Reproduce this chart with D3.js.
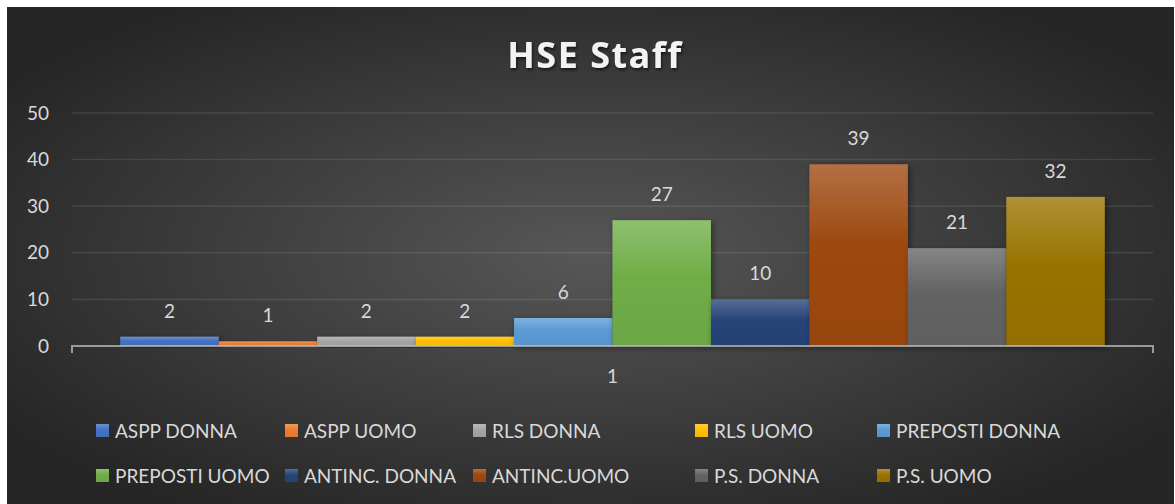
<!DOCTYPE html>
<html>
<head>
<meta charset="utf-8">
<script src="https://cdn.jsdelivr.net/npm/d3@7"></script>
<style>
  html, body { margin: 0; padding: 0; background: #ffffff; }
  svg { display: block; }
</style>
</head>
<body>
<div id="chart"></div>
<script>
const width = 1175;
const height = 504;

// data
const categories = ["1"];
const seriesNames = ["ASPP DONNA", "ASPP UOMO", "RLS DONNA", "RLS UOMO", "PREPOSTI DONNA",
    "PREPOSTI UOMO", "ANTINC. DONNA", "ANTINC.UOMO", "P.S. DONNA", "P.S. UOMO"];
const seriesValues = [2, 1, 2, 2, 6, 27, 10, 39, 21, 32];
const yTicks = [0, 10, 20, 30, 40, 50];

const seriesColors = ["#4472c4", "#ed7d31", "#a5a5a5", "#ffc000", "#5b9bd5",
    "#70ad47", "#264478", "#9e480e", "#636363", "#997300"];

const plot = { left: 72, right: 1153, top: 113, bottom: 346 };
const font = "Lato, 'Open Sans', sans-serif";
const labelSize = "19px";

const svg = d3.select("#chart")
    .append("svg")
    .attr("width", width)
    .attr("height", height);

const defs = svg.append("defs");

// background
const bg = defs.append("radialGradient")
    .attr("id", "bg")
    .attr("cx", "50%").attr("cy", "50%").attr("r", "60%")
    .attr("gradientUnits", "objectBoundingBox");
bg.append("stop").attr("offset", "0%").attr("stop-color", "#575757");
bg.append("stop").attr("offset", "100%").attr("stop-color", "#262626");

svg.append("rect")
    .attr("x", 7).attr("y", 7)
    .attr("width", width - 8).attr("height", height - 7)
    .attr("fill", "url(#bg)");

// bar gradients
seriesColors.forEach((c, i) => {
    const g = defs.append("linearGradient")
        .attr("id", "bar" + i)
        .attr("x1", 0).attr("y1", 0).attr("x2", 0).attr("y2", 1);
    g.append("stop").attr("offset", "0%").attr("stop-color", d3.interpolateRgb(c, "#ffffff")(0.22));
    g.append("stop").attr("offset", "45%").attr("stop-color", c);
    g.append("stop").attr("offset", "100%").attr("stop-color", d3.color(c).darker(0.12));
});

const shadow = defs.append("filter").attr("id", "shadow")
    .attr("x", "-20%").attr("y", "-20%").attr("width", "140%").attr("height", "140%");
shadow.append("feDropShadow")
    .attr("dx", 2).attr("dy", 2).attr("stdDeviation", 3)
    .attr("flood-color", "#000").attr("flood-opacity", 0.45);

const titleShadow = defs.append("filter").attr("id", "tshadow");
titleShadow.append("feDropShadow")
    .attr("dx", 1).attr("dy", 2).attr("stdDeviation", 1.5)
    .attr("flood-color", "#000").attr("flood-opacity", 0.6);

// title
svg.append("text")
    .attr("x", 595)
    .attr("y", 68)
    .attr("text-anchor", "middle")
    .style("font-family", "'Open Sans', sans-serif")
    .style("font-size", "36px")
    .style("font-weight", "bold")
    .style("letter-spacing", "1.5px")
    .style("fill", "#f2f2f2")
    .attr("filter", "url(#tshadow)")
    .text("HSE Staff");

// scales
const x0 = d3.scaleBand()
    .domain(categories)
    .range([plot.left, plot.right])
    .paddingInner(0)
    .paddingOuter(0.049);
const x1 = d3.scaleBand()
    .domain(seriesNames)
    .range([0, x0.bandwidth()]);
const y = d3.scaleLinear()
    .domain([0, 50])
    .range([plot.bottom, plot.top]);

// gridlines
svg.append("g")
    .selectAll("line")
    .data(yTicks.filter(d => d > 0))
    .join("line")
    .attr("x1", plot.left).attr("x2", plot.right)
    .attr("y1", d => y(d)).attr("y2", d => y(d))
    .attr("stroke", "#ffffff")
    .attr("stroke-opacity", 0.1)
    .attr("stroke-width", 1.5);

// y axis labels
const yAxis = svg.append("g")
    .attr("transform", `translate(${plot.left},0)`)
    .call(d3.axisLeft(y).tickValues(yTicks).tickSize(0).tickPadding(23));
yAxis.select(".domain").remove();
yAxis.selectAll("text")
    .style("font-family", font)
    .style("font-size", labelSize)
    .style("fill", "#d9d9d9");

// bars
const groups = svg.append("g")
    .selectAll("g")
    .data(categories)
    .join("g")
    .attr("transform", d => `translate(${x0(d)},0)`);

const barData = seriesNames.map((name, i) => ({ name, value: seriesValues[i], i }));

groups.selectAll("rect")
    .data(barData)
    .join("rect")
    .attr("x", d => x1(d.name))
    .attr("width", x1.bandwidth())
    .attr("y", d => y(d.value))
    .attr("height", d => y(0) - y(d.value))
    .attr("fill", d => `url(#bar${d.i})`)
    .attr("filter", "url(#shadow)");

groups.selectAll("text.value")
    .data(barData)
    .join("text")
    .attr("class", "value")
    .attr("x", d => x1(d.name) + x1.bandwidth() / 2)
    .attr("y", d => y(d.value) - 19)
    .attr("text-anchor", "middle")
    .style("font-family", font)
    .style("font-size", labelSize)
    .style("fill", "#d9d9d9")
    .text(d => d.value);

// x axis
const xAxis = svg.append("g")
    .attr("transform", `translate(0,${plot.bottom})`)
    .call(d3.axisBottom(x0).tickSize(0).tickPadding(24));
xAxis.select(".domain").remove();
xAxis.selectAll("text")
    .style("font-family", font)
    .style("font-size", labelSize)
    .style("fill", "#d9d9d9");

svg.append("path")
    .attr("d", `M${plot.left},${plot.bottom + 7}V${plot.bottom}H${plot.right}V${plot.bottom + 7}`)
    .attr("fill", "none")
    .attr("stroke", "#bfbfbf")
    .attr("stroke-opacity", 0.75)
    .attr("stroke-width", 2);

// legend
const legendCols = [96, 285, 473, 695, 877];
const legendRows = [431, 476];
const legend = svg.append("g")
    .selectAll("g")
    .data(barData)
    .join("g")
    .attr("transform", d => `translate(${legendCols[d.i % 5]},${legendRows[Math.floor(d.i / 5)]})`);
legend.append("rect")
    .attr("x", 0).attr("y", -7)
    .attr("width", 13).attr("height", 13)
    .attr("fill", d => `url(#bar${d.i})`);
legend.append("text")
    .attr("x", 19)
    .attr("y", 7)
    .style("font-family", font)
    .style("font-size", labelSize)
    .style("fill", "#d9d9d9")
    .text(d => d.name);
</script>
</body>
</html>
